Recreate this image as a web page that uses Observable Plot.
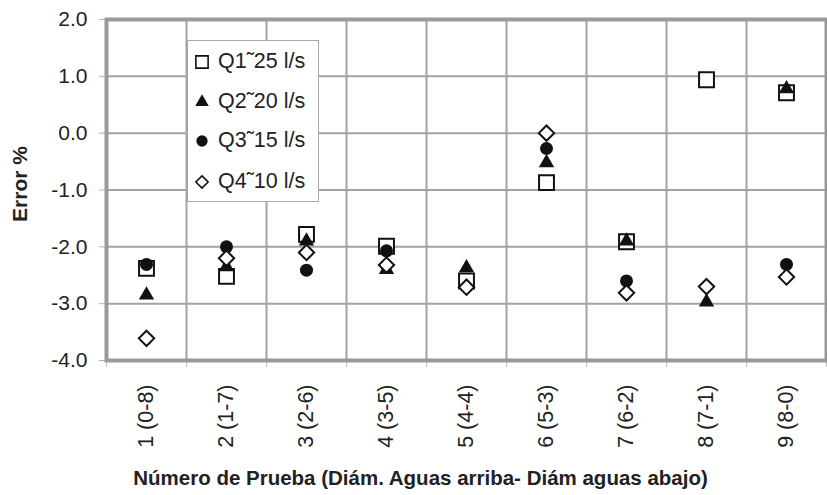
<!DOCTYPE html>
<html>
<head>
<meta charset="utf-8">
<script src="https://cdn.jsdelivr.net/npm/d3@7"></script>
<script src="https://cdn.jsdelivr.net/npm/@observablehq/plot@0.6"></script>
<style>
  body { margin: 0; background: #fff; font-family: "Liberation Sans", Arial, sans-serif; }
  #wrap { position: relative; width: 827px; height: 495px; }
  #legend { position: absolute; left: 187px; top: 40px; width: 132px; height: 162px;
            border: 1.5px solid #a8a8a8; background: #fff; box-sizing: border-box; }
  .row { position: absolute; left: 6px; display: flex; align-items: center; font-size: 21.5px; color: #222; }
  .row svg { margin-right: 8px; }
</style>
</head>
<body>
<div id="wrap"></div>
<script>
const categories = ["1 (0-8)", "2 (1-7)", "3 (2-6)", "4 (3-5)", "5 (4-4)", "6 (5-3)", "7 (6-2)", "8 (7-1)", "9 (8-0)"];
const seriesNames = ["Q1˜25 l/s", "Q2˜20 l/s", "Q3˜15 l/s", "Q4˜10 l/s"];
const q1 = [-2.38, -2.52, -1.78, -1.99, -2.60, -0.87, -1.91, 0.94, 0.71];
const q2 = [-2.85, -2.35, -1.90, -2.40, -2.37, -0.52, -1.90, -2.97, 0.78];
const q3 = [-2.31, -2.00, -2.41, -2.07, null, -0.27, -2.60, null, -2.31];
const q4 = [-3.61, -2.20, -2.10, -2.32, -2.71, 0.00, -2.81, -2.70, -2.53];
const yTicks = [-4, -3, -2, -1, 0, 1, 2];
const xTitle = "Número de Prueba (Diám. Aguas arriba- Diám aguas abajo)";
const yTitle = "Error %";

const seriesValues = [q1, q2, q3, q4];
const styles = [
  {symbol: "square", fill: "white", stroke: "#111", strokeWidth: 2, r: 8.4},
  {symbol: "triangle", fill: "#111", stroke: "none", r: 5.7},
  {symbol: "circle", fill: "#111", stroke: "none", r: 6.5},
  {symbol: "diamond2", fill: "white", stroke: "#111", strokeWidth: 2, r: 6.9}
];
const rows = seriesValues.map((vals, s) =>
  vals.map((v, i) => ({pos: i + 0.5, cat: categories[i], value: v, series: seriesNames[s]}))
      .filter(d => d.value != null));

const bounds = d3.range(categories.length + 1);
const centers = categories.map((c, i) => i + 0.5);

const chart = Plot.plot({
  width: 827,
  height: 495,
  marginLeft: 106,
  marginRight: 1,
  marginTop: 19,
  marginBottom: 135,
  style: {fontFamily: "Liberation Sans, Arial, sans-serif", background: "white"},
  x: {domain: [0, categories.length]},
  y: {domain: [-4, 2]},
  marks: [
    Plot.gridY(yTicks, {stroke: "#a3a3a3", strokeOpacity: 1, strokeWidth: 2}),
    Plot.gridX(bounds.slice(1, -1), {stroke: "#a3a3a3", strokeOpacity: 1, strokeWidth: 2}),
    Plot.axisY(yTicks, {tickFormat: d => d.toFixed(1), fontSize: 21, tickSize: 7, tickPadding: 12,
      stroke: "#b0b0b0", color: "#222", label: null}),
    Plot.axisX(bounds, {tickFormat: () => "", tickSize: 7, stroke: "#c0c0c0", label: null}),
    Plot.axisX(centers, {tickFormat: d => categories[Math.floor(d)], tickRotate: -90, tickSize: 0,
      tickPadding: 24, fontSize: 21.5, color: "#222", label: null}),
    Plot.frame({stroke: "#9a9a9a", strokeWidth: 4}),
    ...rows.map((data, s) => Plot.dot(data, {x: "pos", y: "value", ...styles[s]})),
    Plot.text([yTitle], {frameAnchor: "left", textAnchor: "middle", lineAnchor: "middle", rotate: -90,
      dx: -86, dy: -6, fontWeight: "bold", fontSize: 21, fill: "#222"}),
    Plot.text([xTitle], {frameAnchor: "bottom", lineAnchor: "middle", dx: -46, dy: 118,
      fontWeight: "bold", fontSize: 20.5, fill: "#222"})
  ]
});
const wrap = document.getElementById("wrap");
wrap.appendChild(chart);

// Legend (HTML overlay inside plot area)
const legend = document.createElement("div");
legend.id = "legend";
const legendSymbols = [d3.symbolSquare, d3.symbolTriangle2, d3.symbolCircle, d3.symbolDiamond2];
const legendSizes = [150, 130, 100, 95];
const rowTops = [8, 48, 87, 128];
seriesNames.forEach((name, s) => {
  const row = document.createElement("div");
  row.className = "row";
  row.style.top = rowTops[s] + "px";
  const st = styles[s];
  const path = d3.symbol(legendSymbols[s], legendSizes[s])();
  row.innerHTML = `<svg width="16" height="16" viewBox="-8 -8 16 16"><path d="${path}" fill="${st.fill}" stroke="${st.stroke}" stroke-width="1.6"/></svg><span>${name}</span>`;
  legend.appendChild(row);
});
wrap.appendChild(legend);
</script>
</body>
</html>
